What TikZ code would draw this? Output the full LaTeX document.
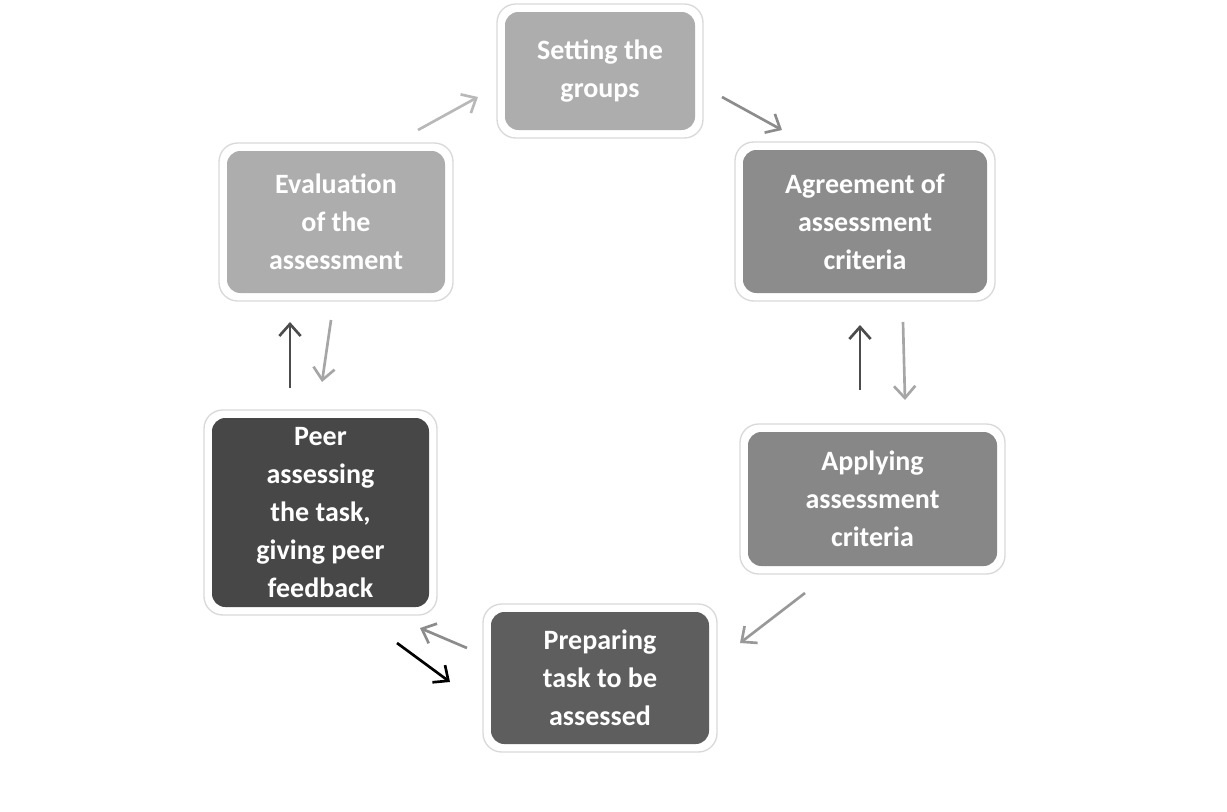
\documentclass[tikz,border=0pt]{standalone}
\usepackage{fontspec}
\setmainfont{Carlito}
\usetikzlibrary{arrows.meta}
\begin{document}
\begin{tikzpicture}[x=0.75pt,y=-0.75pt,
  outerbox/.style={draw=black!15,line width=1pt,fill=white,rounded corners=14pt},
  stage/.style={rounded corners=10pt,text=white,font=\bfseries\fontsize{21}{28.5}\selectfont,align=center},
  arr/.style={line width=2pt,-{Straight Barb[length=9pt,width=16pt,line width=2pt]}}]
\useasboundingbox (0,0) rectangle (1227,811);
\newcommand{\stagebox}[7]{%
  \draw[outerbox] (#1-8,#2-8) rectangle (#3+8,#4+8);
  \fill[#5,rounded corners=10pt] (#1,#2) rectangle (#3,#4);
  \node[stage] (#6) at ({(#1+#3)/2},{(#2+#4)/2}) {#7};}
\stagebox{505}{12}{695}{130}{black!32}{setg}{Setting the\\groups}
\stagebox{743}{150}{987}{293}{black!45}{agree}{Agreement of\\assessment\\criteria}
\stagebox{748}{432}{997}{566}{black!47}{apply}{Applying\\assessment\\criteria}
\stagebox{491}{612}{709}{744}{black!63}{prep}{Preparing\\task to be\\assessed}
\stagebox{212}{418}{429}{607}{black!72}{peer}{Peer\\assessing\\the task,\\giving peer\\feedback}
\stagebox{227}{151}{445}{293}{black!32}{eval}{Evaluation\\of the\\assessment}
\coordinate (a1) at (418,130); \coordinate (a2) at (478,97);
\coordinate (b1) at (722,97); \coordinate (b2) at (782,130);
\coordinate (c1) at (903,322); \coordinate (c2) at (905,400);
\coordinate (d1) at (860,390); \coordinate (d2) at (860,325);
\coordinate (e1) at (805,593); \coordinate (e2) at (740,643);
\coordinate (f1) at (467,648); \coordinate (f2) at (420,628);
\coordinate (g1) at (397,643); \coordinate (g2) at (450,682);
\coordinate (h1) at (290,388); \coordinate (h2) at (290,322);
\coordinate (i1) at (331,320); \coordinate (i2) at (322,382);
\draw[arr,black!28] (a1) -- (a2);
\draw[arr,black!45] (b1) -- (b2);
\draw[arr,black!35] (c1) -- (c2);
\draw[arr,black!70] (d1) -- (d2);
\draw[arr,black!40] (e1) -- (e2);
\draw[arr,black!45] (f1) -- (f2);
\draw[arr,black] (g1) -- (g2);
\draw[arr,black!70] (h1) -- (h2);
\draw[arr,black!35] (i1) -- (i2);
\end{tikzpicture}
\end{document}
